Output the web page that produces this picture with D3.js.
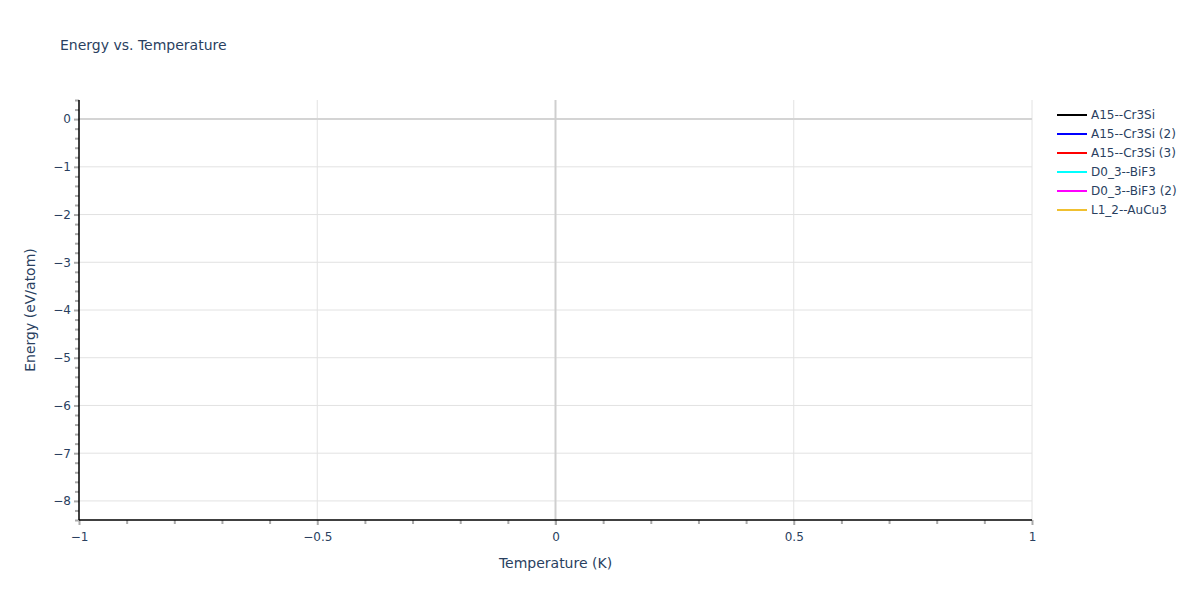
<!DOCTYPE html>
<html>
<head>
<meta charset="utf-8">
<script src="https://cdn.jsdelivr.net/npm/d3@7"></script>
<style>
  body { margin: 0; background: #fff; }
  text { font-family: "DejaVu Sans", Verdana, sans-serif; fill: #2a3f5f; }
</style>
</head>
<body>
<div id="chart"></div>
<script>
// series shown in the legend (no points plotted in the reference)
const seriesNames = ["A15--Cr3Si", "A15--Cr3Si (2)", "A15--Cr3Si (3)", "D0_3--BiF3", "D0_3--BiF3 (2)", "L1_2--AuCu3"];
const seriesColors = ["#000000", "#0000ff", "#ff0000", "#00ffff", "#ff00ff", "#f0c030"];
const seriesTemps = [[], [], [], [], [], []];
const seriesEnergy = [[], [], [], [], [], []];

const xDomain = [-1, 1];
const yDomain = [-8.4, 0.4];
const xTicks = [-1, -0.5, 0, 0.5, 1];
const yTicks = [0, -1, -2, -3, -4, -5, -6, -7, -8];

const W = 1200, H = 600;
const margin = {top: 100, right: 168, bottom: 80, left: 79};
const width = W - margin.left - margin.right;
const height = H - margin.top - margin.bottom;

const svg = d3.select("#chart").append("svg")
  .attr("width", W)
  .attr("height", H);

svg.append("text")
  .attr("x", 60)
  .attr("y", 50)
  .style("font-size", "14px")
  .text("Energy vs. Temperature");

const g = svg.append("g")
  .attr("transform", "translate(" + margin.left + "," + margin.top + ")");

const x = d3.scaleLinear().domain(xDomain).range([0, width]);
const y = d3.scaleLinear().domain(yDomain).range([height, 0]);

// grid
g.append("g").selectAll("line")
  .data(yTicks.filter(d => d !== 0))
  .join("line")
  .attr("x1", 0).attr("x2", width)
  .attr("y1", d => y(d)).attr("y2", d => y(d))
  .attr("stroke", "#e2e2e2").attr("stroke-width", 1);

g.append("g").selectAll("line")
  .data(xTicks.filter(d => d !== 0 && d !== -1))
  .join("line")
  .attr("y1", 0).attr("y2", height)
  .attr("x1", d => x(d)).attr("x2", d => x(d))
  .attr("stroke", "#e2e2e2").attr("stroke-width", 1);

// zero lines
g.append("line")
  .attr("x1", 0).attr("x2", width)
  .attr("y1", y(0)).attr("y2", y(0))
  .attr("stroke", "#d4d4d4").attr("stroke-width", 2);
g.append("line")
  .attr("x1", x(0)).attr("x2", x(0))
  .attr("y1", 0).attr("y2", height + 5)
  .attr("stroke", "#cfcfcf").attr("stroke-width", 2);

// lines (empty series)
const line = d3.line().x(d => x(d[0])).y(d => y(d[1]));
seriesNames.forEach((name, i) => {
  const pts = d3.zip(seriesTemps[i], seriesEnergy[i]);
  g.append("path")
    .datum(pts)
    .attr("fill", "none")
    .attr("stroke", seriesColors[i])
    .attr("stroke-width", 2)
    .attr("d", pts.length ? line(pts) : null);
});

// minor ticks
const xMinor = d3.range(-10, 11).map(d => d / 10).filter(d => !xTicks.includes(d));
const yMinor = d3.range(-42, 3).map(d => d / 5).filter(d => !yTicks.includes(d));

const xAxis = d3.axisBottom(x).tickValues(xTicks).tickSize(5)
  .tickFormat(d => d3.format("")(d).replace("-", "\u2212"));
const yAxis = d3.axisLeft(y).tickValues(yTicks).tickSize(5)
  .tickFormat(d => d3.format("")(d).replace("-", "\u2212"));

const gx = g.append("g")
  .attr("transform", "translate(0," + height + ")");
gx.append("g").call(d3.axisBottom(x).tickValues(xMinor).tickSize(4).tickFormat(""))
  .call(a => a.select(".domain").remove());
gx.append("g").call(xAxis)
  .call(a => a.select(".domain").remove());
gx.selectAll(".tick line").attr("stroke", "#000");
gx.selectAll("g:last-child .tick line").attr("stroke", "#aaa").attr("stroke-width", 2);
gx.selectAll(".tick text").style("font-size", "12px").attr("dy", "1.05em");

const gy = g.append("g");
gy.append("g").call(d3.axisLeft(y).tickValues(yMinor).tickSize(4).tickFormat(""))
  .call(a => a.select(".domain").remove());
gy.append("g").call(yAxis)
  .call(a => a.select(".domain").remove());
gy.selectAll(".tick line").attr("stroke", "#000");
gy.selectAll("g:last-child .tick line").attr("stroke", "#aaa").attr("stroke-width", 2);
gy.selectAll(".tick text").style("font-size", "12px").attr("x", -8);

// axis lines
g.append("line").attr("x1", 0).attr("x2", width).attr("y1", height).attr("y2", height)
  .attr("stroke", "#000").attr("stroke-width", 1.5);
g.append("line").attr("x1", 0).attr("x2", 0).attr("y1", 0).attr("y2", height)
  .attr("stroke", "#000").attr("stroke-width", 1.5);

// axis titles
svg.append("text")
  .attr("x", margin.left + width / 2)
  .attr("y", 568)
  .attr("text-anchor", "middle")
  .style("font-size", "14px")
  .text("Temperature (K)");

svg.append("text")
  .attr("transform", "translate(35," + (margin.top + height / 2) + ") rotate(-90)")
  .attr("text-anchor", "middle")
  .style("font-size", "14px")
  .text("Energy (eV/atom)");

// legend
const legend = svg.append("g").attr("transform", "translate(1057,115)");
seriesNames.forEach((name, i) => {
  const row = legend.append("g").attr("transform", "translate(0," + i * 19 + ")");
  row.append("line").attr("x1", 0).attr("x2", 30)
    .attr("stroke", seriesColors[i]).attr("stroke-width", 2);
  row.append("text").attr("x", 34).attr("dy", "0.35em")
    .style("font-size", "12px").text(name);
});
</script>
</body>
</html>
